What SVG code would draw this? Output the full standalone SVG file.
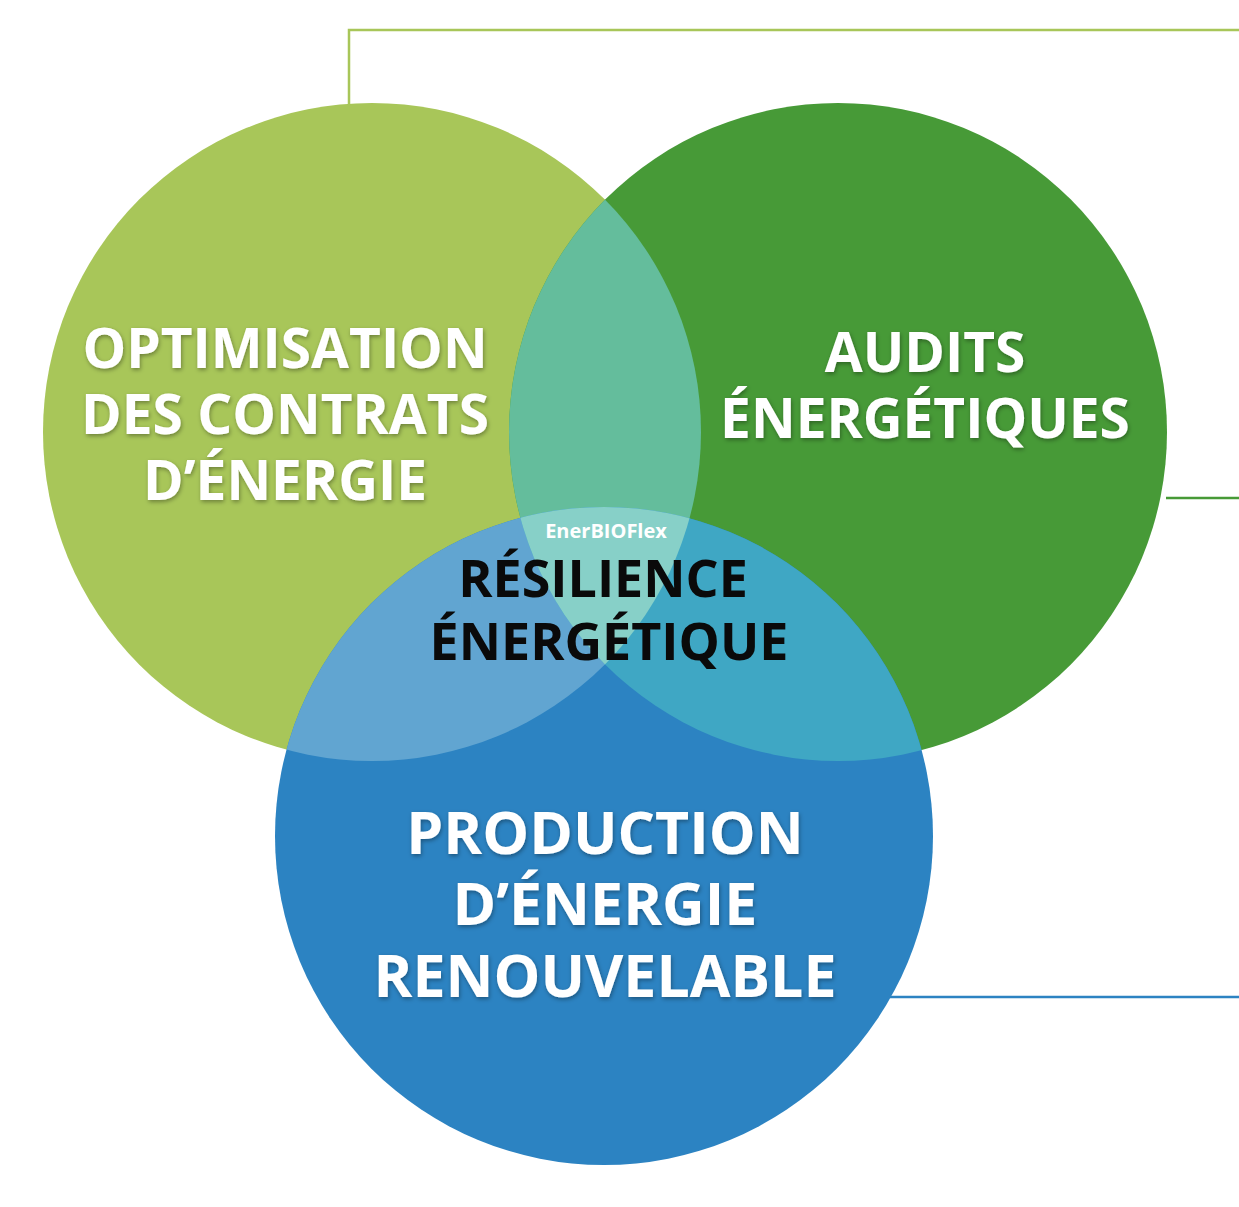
<svg xmlns="http://www.w3.org/2000/svg" width="1239" height="1207" viewBox="0 0 1239 1207">
<style>
.t{font-family:"Open Sans","Liberation Sans",sans-serif;font-weight:bold;text-anchor:middle;fill:#fff;font-size:55px}
.b{font-size:59px}
.c{fill:#0a0a0a;font-size:52px}
.ln{fill:none;stroke-width:2.5}
</style>
<defs>
<clipPath id="c1"><circle cx="372" cy="432" r="329"/></clipPath>
<clipPath id="c2"><circle cx="838" cy="432" r="329"/></clipPath>
<filter id="sh" x="-10%" y="-10%" width="120%" height="130%"><feDropShadow dx="1" dy="2" stdDeviation="2" flood-color="#000" flood-opacity="0.35"/></filter>
</defs>
<rect width="1239" height="1207" fill="#fff"/>
<g id="connectors">
<polyline class="ln" stroke="#A8C659" points="349,104 349,30 1239,30"/>
<line class="ln" stroke="#479A37" x1="1166" y1="498" x2="1239" y2="498"/>
<line class="ln" stroke="#2C83C2" x1="890" y1="997" x2="1239" y2="997"/>
</g>
<g id="circles">
<circle id="n1" cx="372" cy="432" r="329" fill="#A8C659"/>
<circle id="n2" cx="838" cy="432" r="329" fill="#479A37"/>
<circle id="n3" cx="604" cy="836" r="329" fill="#2C83C2"/>
<g clip-path="url(#c1)"><circle cx="838" cy="432" r="329" fill="#64BD9C"/></g>
<g clip-path="url(#c1)"><circle cx="604" cy="836" r="329" fill="#61A5D1"/></g>
<g clip-path="url(#c2)"><circle cx="604" cy="836" r="329" fill="#3FA7C4"/></g>
<g clip-path="url(#c1)"><g clip-path="url(#c2)"><circle cx="604" cy="836" r="329" fill="#87D0C8"/></g></g>
</g>
<g id="labels">
<g filter="url(#sh)">
<text class="t" x="285" y="368">OPTIMISATION</text>
<text class="t" x="285" y="434">DES CONTRATS</text>
<text class="t" x="285" y="500">D’ÉNERGIE</text>
<text class="t" x="925" y="372">AUDITS</text>
<text class="t" x="925" y="438">ÉNERGÉTIQUES</text>
<text class="t b" x="605" y="854">PRODUCTION</text>
<text class="t b" x="605" y="925">D’ÉNERGIE</text>
<text class="t b" x="605" y="997">RENOUVELABLE</text>
</g>
<text class="t" x="606" y="538" style="font-size:20px">EnerBIOFlex</text>
<text class="t c" x="603" y="597">RÉSILIENCE</text>
<text class="t c" x="609" y="660">ÉNERGÉTIQUE</text>
</g>
</svg>
